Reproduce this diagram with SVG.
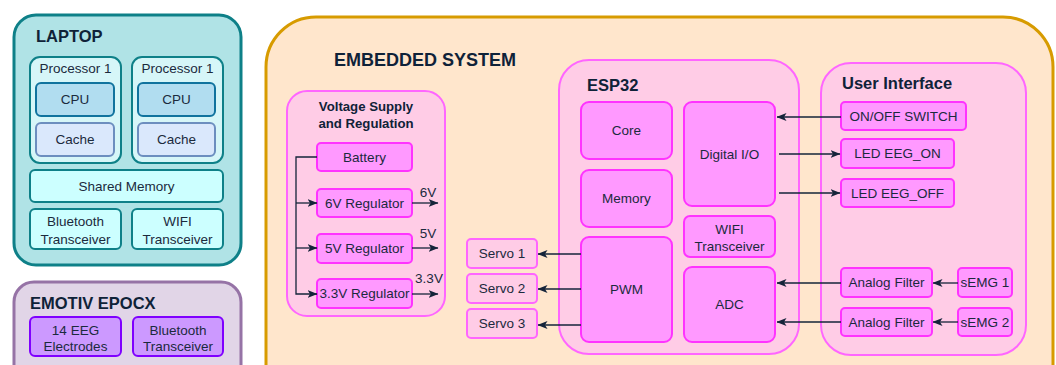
<svg xmlns="http://www.w3.org/2000/svg" width="1056" height="365" viewBox="0 0 1056 365">
<defs>
<marker id="arr" viewBox="0 0 10 8" markerWidth="10" markerHeight="8" refX="9.5" refY="4" orient="auto" markerUnits="userSpaceOnUse">
<path d="M0,0 L10,4 L0,8 L2.5,4 Z" fill="#15243a"/>
</marker>
<style>
text{font-family:"Liberation Sans",Arial,sans-serif;fill:#1b2a3d;font-size:13.5px;text-anchor:middle}
.t{font-weight:bold;font-size:16.5px;text-anchor:start;fill:#0f2238}
.ts{font-weight:bold;font-size:13.2px;fill:#0f2238}
.big{font-weight:bold;font-size:18px;text-anchor:start;fill:#0f2238}
.lap{fill:#b0e3e6;stroke:#0e8088;stroke-width:3}
.proc{fill:#d6f6f8;stroke:#0e8088;stroke-width:2}
.cpu{fill:#b1ddf0;stroke:#10739e;stroke-width:2}
.cache{fill:#dae8fc;stroke:#6c8ebf;stroke-width:2}
.cy{fill:#ccffff;stroke:#0e8088;stroke-width:2}
.emo{fill:#e1d5e7;stroke:#9673a6;stroke-width:3}
.pur{fill:#cc99ff;stroke:#7f00ff;stroke-width:2}
.emb{fill:#ffe6cc;stroke:#d79b00;stroke-width:3}
.pc{fill:#ffcce6;stroke:#ff66ff;stroke-width:2}
.pb{fill:#ff99ff;stroke:#ff33ff;stroke-width:2}
.ca{fill:none;stroke:#15243a;stroke-width:1.3;marker-end:url(#arr)}
</style>
</defs>

<g id="laptop">
<rect class="lap" x="14" y="15" width="227" height="250" rx="22"/>
<text class="t" x="36" y="42">LAPTOP</text>
</g>
<g id="processor1a">
<rect class="proc" x="30" y="57" width="91" height="106" rx="10"/>
<text x="75.5" y="73">Processor 1</text>
</g>
<g id="cpu1"><rect class="cpu" x="36" y="83" width="78" height="33" rx="5"/><text x="75" y="104">CPU</text></g>
<g id="cache1"><rect class="cache" x="36" y="123" width="78" height="33" rx="5"/><text x="75" y="144">Cache</text></g>
<g id="processor1b">
<rect class="proc" x="132" y="57" width="91" height="106" rx="10"/>
<text x="177.5" y="73">Processor 1</text>
</g>
<g id="cpu2"><rect class="cpu" x="138" y="83" width="77" height="33" rx="5"/><text x="176.5" y="104">CPU</text></g>
<g id="cache2"><rect class="cache" x="138" y="123" width="77" height="33" rx="5"/><text x="176.5" y="144">Cache</text></g>
<g id="shared-memory"><rect class="cy" x="30" y="170" width="193" height="32" rx="5"/><text x="126.5" y="191">Shared Memory</text></g>
<g id="laptop-bt"><rect class="cy" x="30" y="209" width="91" height="40" rx="5"/><text x="75.5" y="226">Bluetooth</text><text x="75.5" y="243.5">Transceiver</text></g>
<g id="laptop-wifi"><rect class="cy" x="132" y="209" width="91" height="40" rx="5"/><text x="177.5" y="226">WIFI</text><text x="177.5" y="243.5">Transceiver</text></g>

<g id="emotiv">
<rect class="emo" x="14" y="282" width="227" height="110" rx="20"/>
<text class="t" x="30" y="309">EMOTIV EPOCX</text>
</g>
<g id="eeg-electrodes"><rect class="pur" x="30" y="317" width="91" height="39" rx="5"/><text x="75.5" y="334.5">14 EEG</text><text x="75.5" y="350.5">Electrodes</text></g>
<g id="emotiv-bt"><rect class="pur" x="133" y="317" width="90" height="39" rx="5"/><text x="178" y="334.5">Bluetooth</text><text x="178" y="350.5">Transceiver</text></g>

<g id="embedded">
<rect class="emb" x="266" y="17" width="787" height="400" rx="50"/>
<text class="big" x="334" y="65.5">EMBEDDED SYSTEM</text>
</g>

<g id="voltage">
<rect class="pc" x="287" y="91" width="158" height="225" rx="20"/>
<text class="ts" x="366" y="110.5">Voltage Supply</text>
<text class="ts" x="366" y="127.5">and Regulation</text>
</g>
<g id="battery"><rect class="pb" x="317" y="143" width="95" height="28" rx="4"/><text x="364.5" y="162">Battery</text></g>
<g id="reg6"><rect class="pb" x="317" y="189" width="95" height="28" rx="4"/><text x="364.5" y="208">6V Regulator</text></g>
<g id="reg5"><rect class="pb" x="317" y="234" width="95" height="29" rx="4"/><text x="364.5" y="253">5V Regulator</text></g>
<g id="reg33"><rect class="pb" x="317" y="279" width="95" height="29" rx="4"/><text x="364.5" y="298">3.3V Regulator</text></g>

<g id="esp32">
<rect class="pc" x="559" y="60" width="240" height="294" rx="30"/>
<text class="t" x="587" y="91">ESP32</text>
</g>
<g id="core"><rect class="pb" x="581" y="102" width="91" height="57" rx="8"/><text x="626.5" y="135">Core</text></g>
<g id="memory"><rect class="pb" x="581" y="170" width="91" height="57" rx="8"/><text x="626.5" y="203">Memory</text></g>
<g id="pwm"><rect class="pb" x="581" y="237" width="91" height="105" rx="8"/><text x="626.5" y="294">PWM</text></g>
<g id="digital-io"><rect class="pb" x="684" y="102" width="91" height="104" rx="8"/><text x="729.5" y="159">Digital I/O</text></g>
<g id="esp-wifi"><rect class="pb" x="684" y="216" width="91" height="41" rx="6"/><text x="729.5" y="233.5">WIFI</text><text x="729.5" y="250.5">Transceiver</text></g>
<g id="adc"><rect class="pb" x="684" y="267" width="91" height="75" rx="8"/><text x="729.5" y="309">ADC</text></g>

<g id="servo1"><rect class="pc" x="467" y="239" width="70" height="29" rx="4"/><text x="502" y="258">Servo 1</text></g>
<g id="servo2"><rect class="pc" x="467" y="274" width="70" height="29" rx="4"/><text x="502" y="293">Servo 2</text></g>
<g id="servo3"><rect class="pc" x="467" y="309" width="70" height="29" rx="4"/><text x="502" y="328">Servo 3</text></g>

<g id="user-interface">
<rect class="pc" x="821" y="63" width="205" height="292" rx="30"/>
<text class="t" x="842" y="89">User Interface</text>
</g>
<g id="onoff"><rect class="pb" x="841" y="102" width="125" height="28" rx="4"/><text x="903.5" y="121">ON/OFF SWITCH</text></g>
<g id="led-on"><rect class="pb" x="841" y="139" width="113" height="29" rx="4"/><text x="897.5" y="158">LED EEG_ON</text></g>
<g id="led-off"><rect class="pb" x="841" y="179" width="113" height="28" rx="4"/><text x="897.5" y="198">LED EEG_OFF</text></g>
<g id="filter1"><rect class="pb" x="841" y="268" width="91" height="29" rx="4"/><text x="886.5" y="287">Analog Filter</text></g>
<g id="filter2"><rect class="pb" x="841" y="308" width="91" height="28" rx="4"/><text x="886.5" y="327">Analog Filter</text></g>
<g id="semg1"><rect class="pb" x="958" y="268" width="54" height="29" rx="4"/><text x="985" y="287">sEMG 1</text></g>
<g id="semg2"><rect class="pb" x="958" y="308" width="54" height="28" rx="4"/><text x="985" y="327">sEMG 2</text></g>

<g id="connectors">
<path class="ca" d="M317,157 H296 V294 H317"/>
<path class="ca" d="M296,203 H317"/>
<path class="ca" d="M296,248 H317"/>
<path class="ca" d="M412,203 H438"/>
<path class="ca" d="M412,248 H438"/>
<path class="ca" d="M412,294 H438"/>
<text x="428" y="196.5">6V</text>
<text x="428" y="238">5V</text>
<text x="429" y="283">3.3V</text>
<path class="ca" d="M581,254 H538"/>
<path class="ca" d="M581,289 H538"/>
<path class="ca" d="M581,325 H538"/>
<path class="ca" d="M841,117 H777"/>
<path class="ca" d="M779,154 H840"/>
<path class="ca" d="M779,193 H840"/>
<path class="ca" d="M841,283 H777"/>
<path class="ca" d="M841,322 H777"/>
<path class="ca" d="M958,283 H933"/>
<path class="ca" d="M958,322 H933"/>
</g>
</svg>
